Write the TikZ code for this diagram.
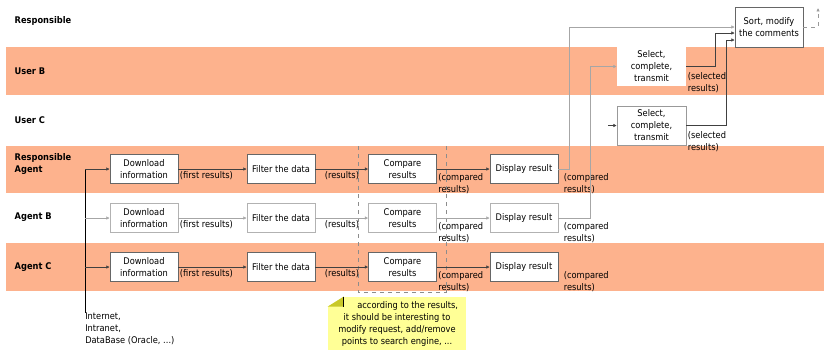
\documentclass[tikz,border=0pt]{standalone}
\usepackage{fontspec}
\setmainfont{DejaVu Sans Condensed}
\usetikzlibrary{arrows.meta}
\definecolor{bandorange}{RGB}{253,178,141}
\definecolor{memoyellow}{RGB}{255,255,150}
\definecolor{memofold}{RGB}{200,200,40}

\begin{document}
\begin{tikzpicture}
  [x=0.75pt,y=-0.75pt,
   every node/.style={font=\fontsize{6.9}{9}\selectfont},
   task/.style={rectangle,draw=black!60,fill=white,minimum width=51pt,minimum height=21.75pt,inner sep=1pt,align=center},
   dimtask/.style={task,draw=black!30},
   pick/.style={task,minimum width=51.75pt,minimum height=29.25pt},
   lane/.style={anchor=west,font=\fontsize{6.9}{9}\selectfont\bfseries,align=left},
   lbl/.style={anchor=north west,inner sep=1pt,align=left},
   flow/.style={draw=black!75,-{Latex[length=2.5pt,width=2.5pt]}},
   faint/.style={draw=black!35,-{Latex[length=2.5pt,width=2.5pt]}}]
  \useasboundingbox (0,0) rectangle (824,350);

  % swim lanes
  \foreach \top/\bot in {47/95, 146/193, 243/291}
    \fill[bandorange] (6,\top) rectangle (824,\bot);

  \node[lane] (l1) at (10,21) {Responsible};
  \node[lane] (l2) at (10,71) {User B};
  \node[lane] (l3) at (10,120) {User C};
  \node[lane] (l4) at (10,164) {Responsible\\Agent};
  \node[lane] (l5) at (10,217) {Agent B};
  \node[lane] (l6) at (10,267) {Agent C};

  % comparison group
  \draw[dashed,draw=black!45] (358,146) -- (358,292) -- (446,292) -- (446,146);

  % agents
  \node[task] (d1) at (144,169) {Download\\information};
  \node[task] (f1) at (281,169) {Filter the data};
  \node[task] (c1) at (402.5,169) {Compare\\results};
  \node[task] (s1) at (524,169) {Display result};

  \node[dimtask] (d2) at (144,218) {Download\\information};
  \node[dimtask] (f2) at (281,218) {Filter the data};
  \node[dimtask] (c2) at (402.5,218) {Compare\\results};
  \node[dimtask] (s2) at (524,218) {Display result};

  \node[task] (d3) at (144,267) {Download\\information};
  \node[task] (f3) at (281,267) {Filter the data};
  \node[task] (c3) at (402.5,267) {Compare\\results};
  \node[task] (s3) at (524,267) {Display result};

  % users
  \node[pick,draw=none] (selB) at (651.5,66.5) {Select,\\complete,\\transmit};
  \node[pick,draw=black!40] (selC) at (651.5,125.5) {Select,\\complete,\\transmit};
  \node[pick,minimum width=51pt,minimum height=30pt] (sort) at (769,27) {Sort, modify\\the comments};

  % sources
  \coordinate (src) at (85,313);
  \draw[black] (src) -- (src |- d1);
  \node[lbl,inner sep=0pt] (net) at (src) {Internet,\\Intranet,\\DataBase (Oracle, ...)};

  \foreach \r/\sty in {1/flow, 2/faint, 3/flow} {
    \draw[\sty] (src |- d\r) -- (d\r);
    \draw[\sty] (d\r) -- node[lbl,pos=0,yshift=-1pt] {(first results)} (f\r);
    \draw[\sty] (f\r) -- node[lbl,pos=0.15,yshift=-1pt] {(results)} (c\r);
    \draw[\sty] (c\r) -- node[lbl,pos=0,yshift=-2pt] {(compared\\results)} (s\r);
    \node[lbl,yshift=-2pt] at ([xshift=3pt]s\r.east) {(compared\\results)};
  }

  \draw[faint] (s1.east) -- ++(11,0) |- (sort.west);
  \draw[faint] (s2.east) -- ++(32,0) |- (selB.west);
  \coordinate (selCin) at (608,125.5);
  \draw[flow] (selCin) -- (selC.west);
  \draw[flow] (selB.east) -- ++(29,0) |- ([yshift=-4.5pt]sort.west);
  \draw[flow] (selC.east) -- ++(40,0) |- ([yshift=-9.75pt]sort.west);
  \node[lbl,yshift=-3pt] at (selB.east) {(selected\\results)};
  \node[lbl,yshift=-3pt] at (selC.east) {(selected\\results)};

  \coordinate (back) at (818,8);
  \draw[dashed,draw=black!40,-{Latex[length=2.5pt,width=2.5pt]}] (sort.east) -| (back);

  % note
  \node[fill=memoyellow,minimum width=103.5pt,minimum height=40pt,align=center,inner sep=2pt] (memo) at (397,323.5)
    {\hspace*{16pt}according to the results,\\it should be interesting to\\modify request, add/remove\\points to search engine, ...};
  \fill[white] (memo.north west) -- ++(16,0) -- ++(-16,10) -- cycle;
  \fill[memofold] (memo.north west) ++(0,10) -- ++(16,-10) -- ++(0,10) -- cycle;
  \draw ([xshift=12pt]memo.north west) -- ++(0,10);
\end{tikzpicture}
\end{document}
